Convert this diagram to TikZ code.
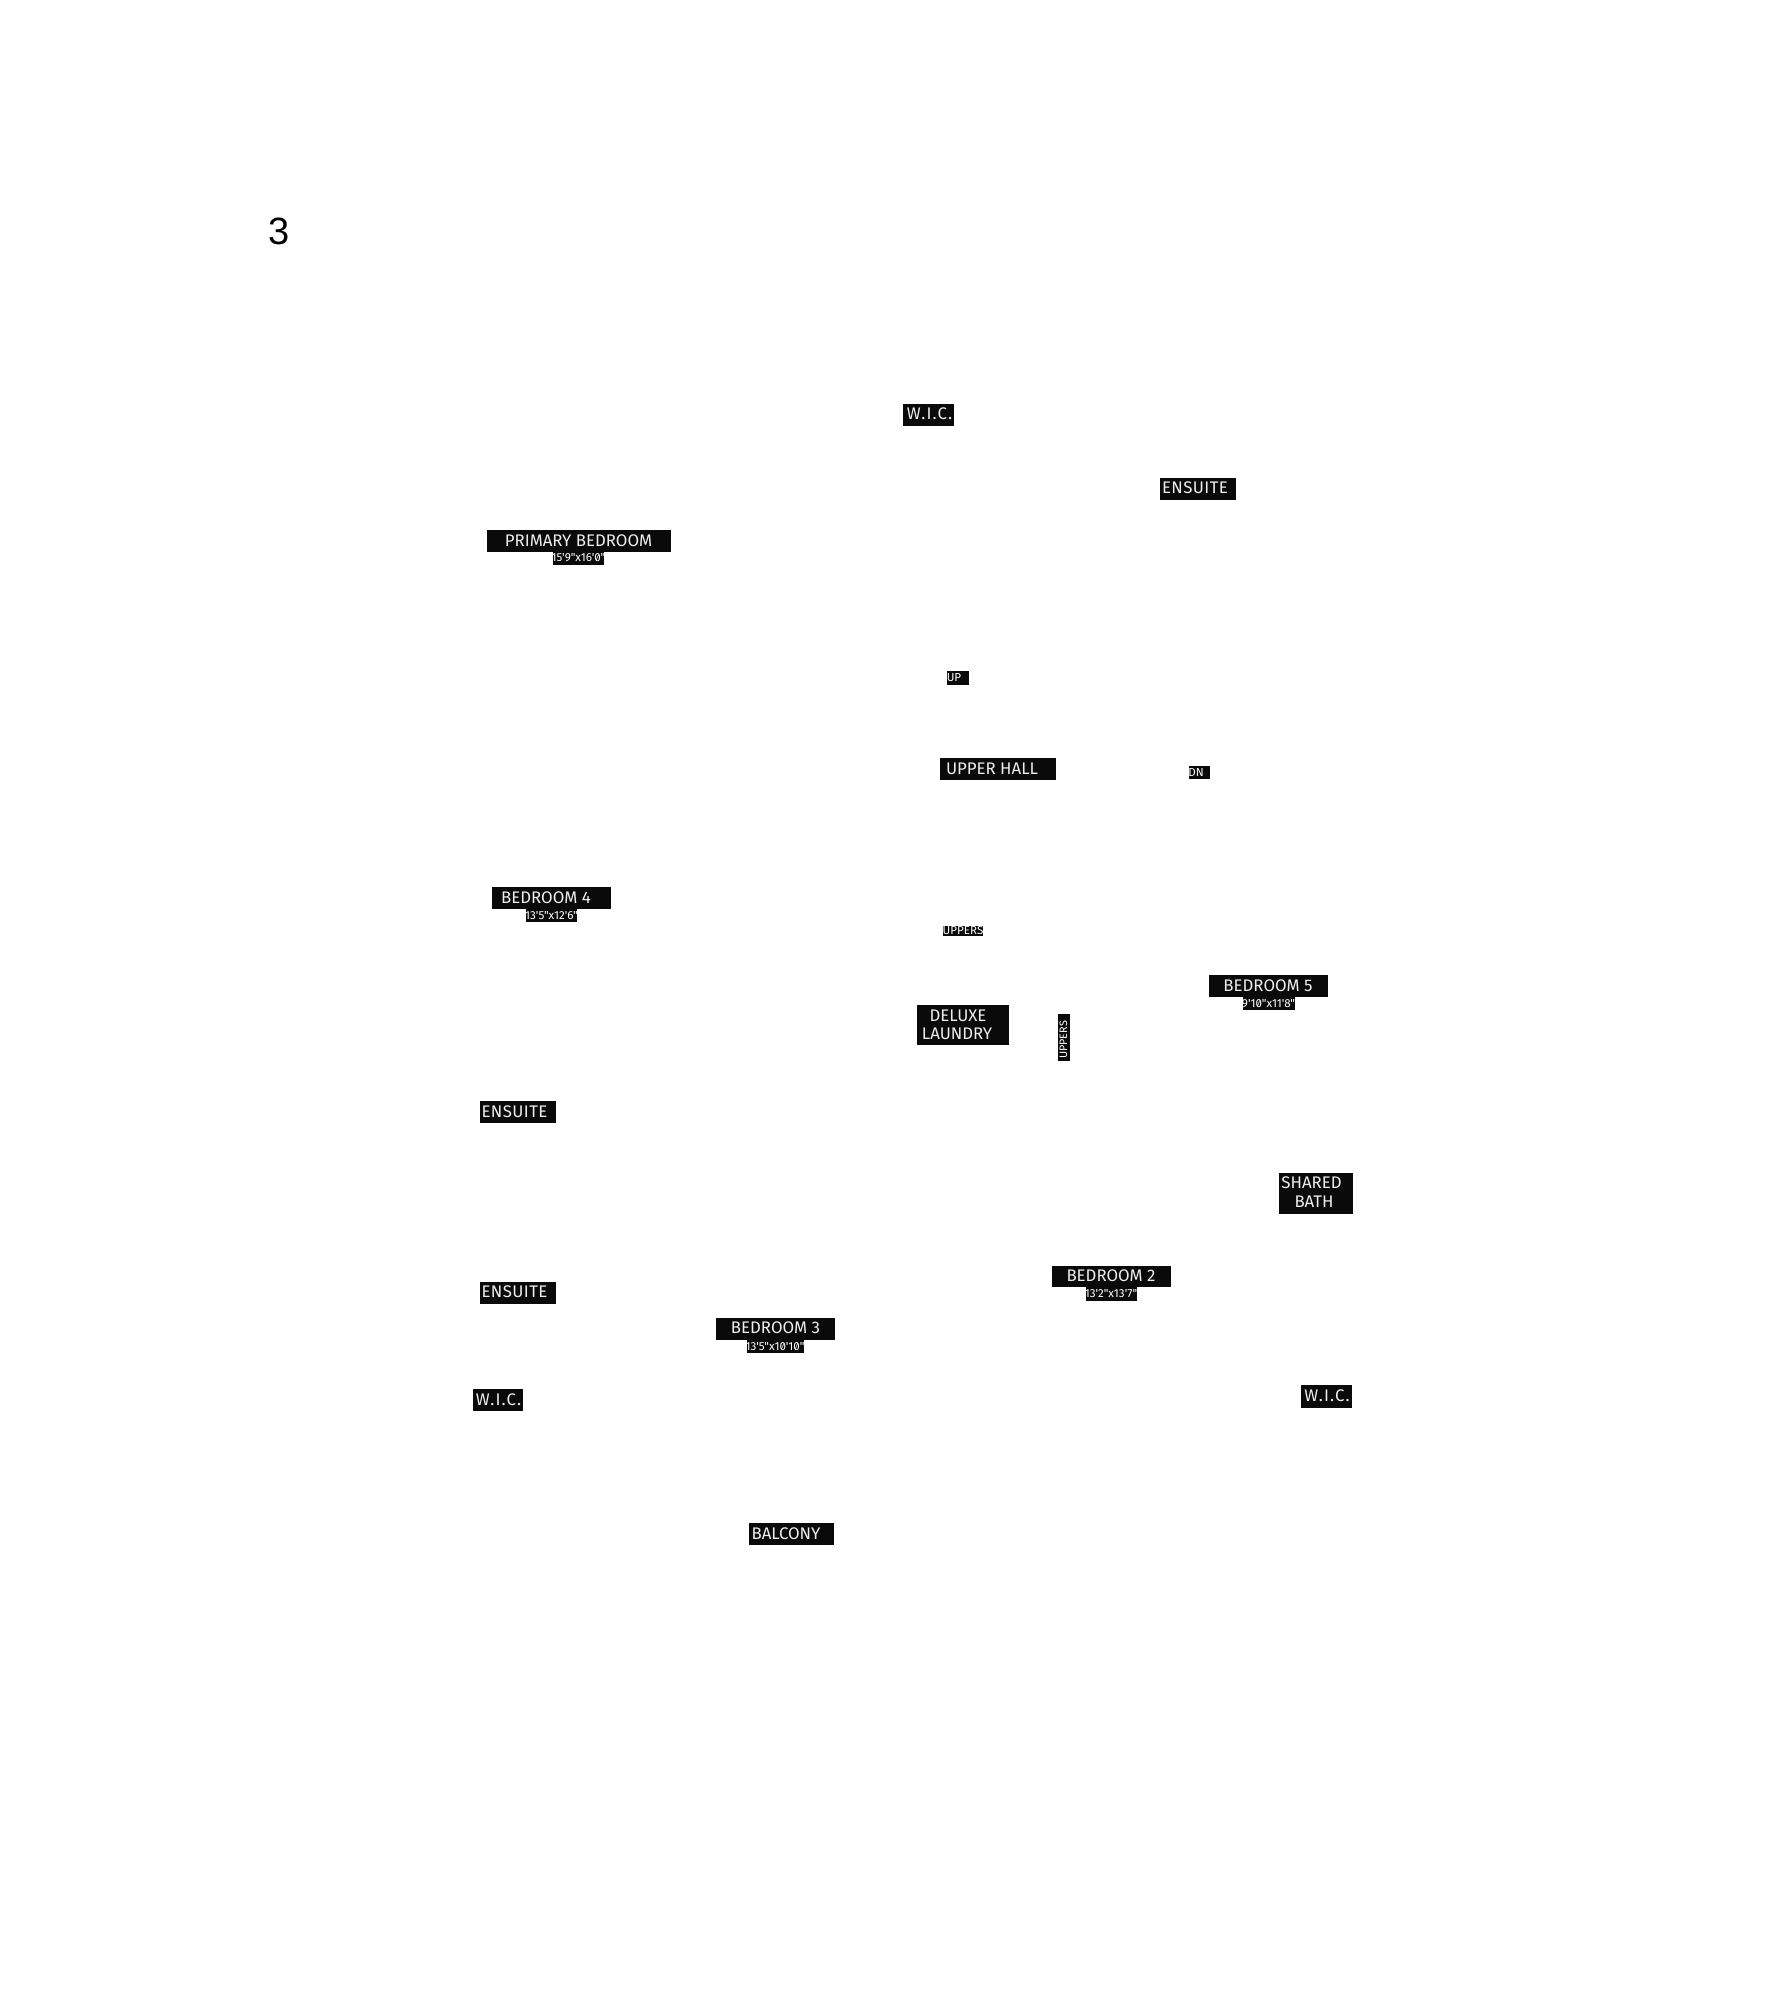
\documentclass[tikz,border=0pt]{standalone}
\usepackage{fontspec}
\setmainfont{Liberation Sans}
\newfontfamily\tagfont{Fira Sans}
\newfontfamily\dimfont[RawFeature=+zero]{Fira Sans}
\newcommand{\wic}{\addfontfeature{LetterSpace=7}W.I.C.}
\newcommand{\ensuite}{\addfontfeature{LetterSpace=2.5}ENSUITE}
\definecolor{tagblack}{HTML}{0A0A0A}
\definecolor{tagwhite}{HTML}{EDEDED}
\tikzset{
	tagbox/.style={fill=tagblack,inner sep=0pt,outer sep=0pt},
	roomtext/.style={text=tagwhite,font=\tagfont\fontsize{8.4}{9}\selectfont,inner sep=0pt,anchor=base,yshift=-3pt},
	dimtext/.style={text=white,font=\dimfont\fontsize{5.8}{6}\selectfont,inner sep=0pt,anchor=base,yshift=-2pt},
}
\begin{document}
\begin{tikzpicture}[x=.5pt,y=-.5pt]
	\useasboundingbox (0,0) rectangle (1766,2000);
	
	% black plates, corners read off the plan in pixels
	\foreach \nm/\xa/\ya/\xb/\yb in {
		primary/486.5/530/670.5/552, primarydim/552.5/552/603.5/565,
		wictop/902.5/404/953.5/426, ensuitetop/1159.5/478/1235.5/500,
		up/946.5/671/968.5/685, upperhall/939.5/758/1055.5/780, dn/1188.5/766/1209.5/779,
		uppersh/942.5/926/982.5/936, laundry/916.5/1005/1008.5/1045, uppersv/1057.5/1014/1069.5/1061,
		bedfour/491.5/887/610.5/909, bedfourdim/525.5/909/576.5/922,
		ensuitemid/479.5/1101/555.5/1123,
		bedfive/1208.5/975/1327.5/997, bedfivedim/1242.5/997/1294.5/1010,
		shared/1278.5/1173/1352.5/1214,
		bedtwo/1051.5/1266/1170.5/1287, bedtwodim/1085.5/1287/1136.5/1301,
		ensuitelow/479.5/1282/555.5/1304,
		bedthree/715.5/1318/834.5/1340, bedthreedim/746.5/1340/803.5/1353,
		wicleft/472.5/1389/522.5/1411, wicright/1300.5/1385/1351.5/1408,
		balcony/748.5/1523/833.5/1545}
		\node[tagbox,minimum width={(\xb-\xa)*.5pt},minimum height={(\yb-\ya)*.5pt}] (\nm) at ({(\xa+\xb)/2},{(\ya+\yb)/2}) {};
	
	% room names
	\foreach \nm/\x/\y/\txt in {
		primarytxt/578.5/540/PRIMARY BEDROOM,
		wictoptxt/929.5/414/\wic,
		ensuitetoptxt/1195/488/\ensuite,
		upperhalltxt/992/768/UPPER HALL,
		deluxetxt/958/1015/DELUXE,
		laundrytxt/957/1033/LAUNDRY,
		bedfourtxt/546/897/BEDROOM 4,
		ensuitemidtxt/514.5/1111/\ensuite,
		bedfivetxt/1268/985/BEDROOM 5,
		sharedtxt/1311.5/1182/SHARED,
		bathtxt/1314/1201/BATH,
		bedtwotxt/1111/1275/BEDROOM 2,
		ensuitelowtxt/514.5/1291/\ensuite,
		bedthreetxt/775.5/1327/BEDROOM 3,
		wiclefttxt/498.5/1399/\wic,
		wicrighttxt/1327/1395/\wic,
		balconytxt/786/1533/BALCONY}
		\node[roomtext] (\nm) at (\x,\y) {\txt};
	
	% sizes and small notes
	\foreach \nm/\x/\y/\txt in {
		primarydimtxt/578.5/557/15'9"x16'0",
		bedfourdimtxt/551.5/915/13'5"x12'6",
		bedfivedimtxt/1268.5/1003/9'10"x11'8",
		bedtwodimtxt/1111/1293/13'2"x13'7",
		bedthreedimtxt/775/1346/13'5"x10'10",
		uptxt/954/677/UP,
		dntxt/1196/772/DN,
		uppershtxt/963/930/UPPERS}
		\node[dimtext] (\nm) at (\x,\y) {\txt};
	\node[text=white,font=\dimfont\fontsize{5.4}{6}\selectfont,inner sep=0pt,rotate=90] (uppersvtxt) at (1063.5,1040) {UPPERS};
	
	\node[font=\fontsize{19}{21}\selectfont,inner sep=0pt] (sheetno) at (279,231.5) {3};
\end{tikzpicture}
\end{document}
